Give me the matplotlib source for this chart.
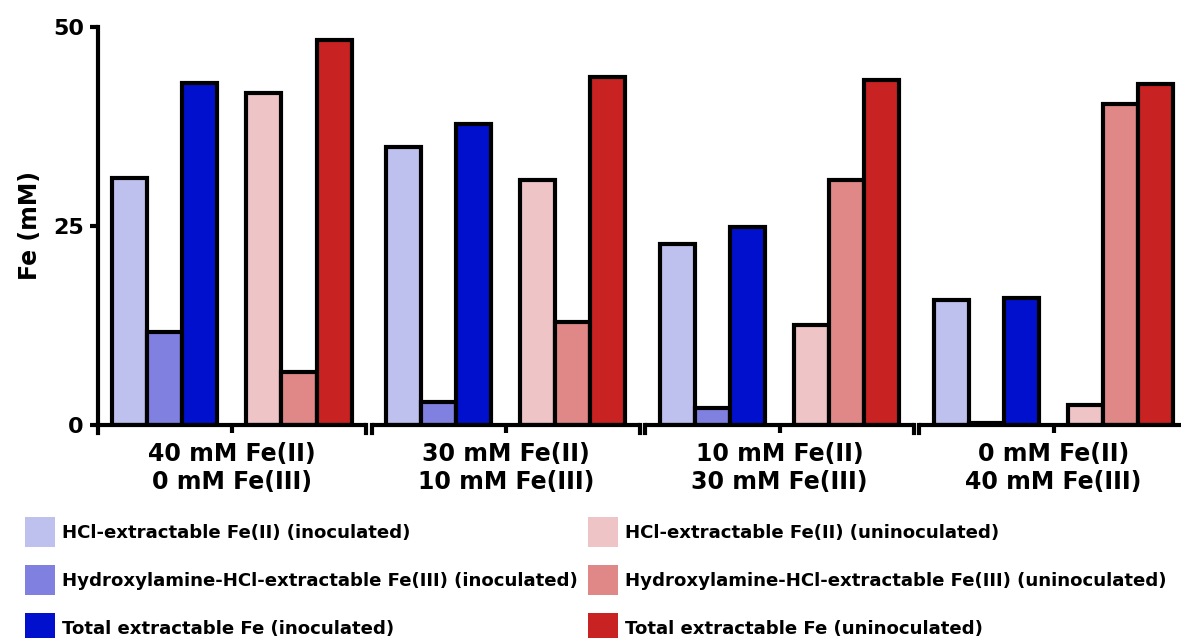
import numpy as np
import matplotlib
matplotlib.use("Agg")
import matplotlib.pyplot as plt
from matplotlib.patches import Patch

# data
groups = ["40 mM Fe(II)\n0 mM Fe(III)", "30 mM Fe(II)\n10 mM Fe(III)",
          "10 mM Fe(II)\n30 mM Fe(III)", "0 mM Fe(II)\n40 mM Fe(III)"]
series = ["HCl-extractable Fe(II) (inoculated)",
          "Hydroxylamine-HCl-extractable Fe(III) (inoculated)",
          "Total extractable Fe (inoculated)",
          "HCl-extractable Fe(II) (uninoculated)",
          "Hydroxylamine-HCl-extractable Fe(III) (uninoculated)",
          "Total extractable Fe (uninoculated)"]
hcl_inoc = [31.0, 34.9, 22.7, 15.7]
hya_inoc = [11.7, 2.9, 2.1, 0.3]
tot_inoc = [43.0, 37.8, 24.9, 16.0]
hcl_unin = [41.7, 30.8, 12.6, 2.5]
hya_unin = [6.7, 12.9, 30.8, 40.3]
tot_unin = [48.4, 43.7, 43.3, 42.8]
values = [hcl_inoc, hya_inoc, tot_inoc, hcl_unin, hya_unin, tot_unin]
colors = ["#BEC0EE", "#8080E0", "#0010CC", "#EEC4C6", "#E08888", "#C82222"]

plt.rcParams["font.family"] = "DejaVu Sans"
plt.rcParams["font.weight"] = "bold"

fig = plt.figure(figsize=(11.81, 6.38), dpi=100)
ax = fig.add_axes([0.0827, 0.3339, 0.9230, 0.6238])

x = np.arange(len(groups))
w = 0.128
offsets = [-0.245 - w, -0.245, -0.245 + w, 0.245 - w, 0.245, 0.245 + w]
for vals, off, c in zip(values, offsets, colors):
    ax.bar(x + off, vals, width=w, color=c, edgecolor="black", linewidth=3, zorder=2)

ax.set_xlim(-0.49, 3.49)
ax.set_ylim(0, 50)
ax.set_yticks([0, 25, 50])
ax.tick_params(axis="y", length=6, width=3, direction="out", pad=4, labelsize=16)
ax.set_ylabel("Fe (mM)", fontsize=17, fontweight="bold", labelpad=8)

ax.set_xticks(x)
ax.set_xticklabels(groups, fontsize=17, fontweight="bold")
ax.tick_params(axis="x", length=6, width=3, direction="out", pad=6.5)

for s in ["top", "right", "bottom"]:
    ax.spines[s].set_visible(False)
ax.spines["left"].set_linewidth(3)
ax.spines["left"].set_bounds(0, 50)

# broken x axis: one segment per group with end ticks
half = 0.49
for g in x:
    ax.plot([g - half, g + half], [0, 0], color="black", lw=3,
            solid_capstyle="butt", clip_on=False, zorder=3)
    for e in (g - half, g + half):
        ax.plot([e, e], [0, -1.0], color="black", lw=3, clip_on=False, zorder=3)

handles = [Patch(facecolor=c, edgecolor="none") for c in colors]
fig.legend(handles, series, loc="upper left", bbox_to_anchor=(0.0212, 0.1897),
           ncol=2, frameon=False, prop={"size": 13.1, "weight": "bold"},
           handlelength=1.65, handleheight=2.16, handletextpad=0.38,
           labelspacing=1.0, columnspacing=0.55, borderpad=0, borderaxespad=0)

fig.savefig("out.png", dpi=100)
